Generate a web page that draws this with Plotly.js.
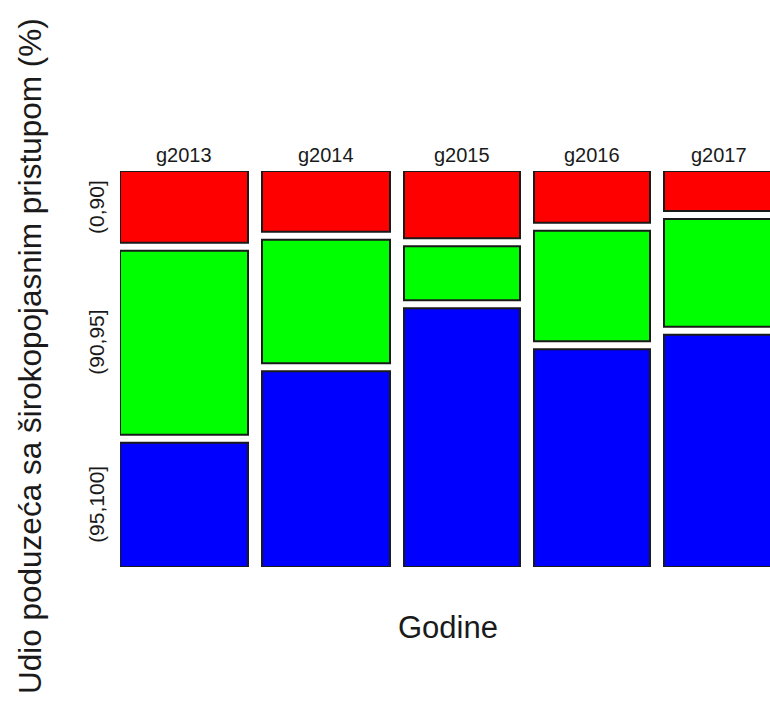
<!DOCTYPE html>
<html>
<head>
<meta charset="utf-8">
<script src="https://cdn.plot.ly/plotly-3.0.1.min.js"></script>
<style>html,body{margin:0;padding:0;background:#fff;}#chart{width:770px;height:704px;}</style>
</head>
<body>
<div id="chart"></div>
<script>
// ---- data ----
const years = ["g2013", "g2014", "g2015", "g2016", "g2017"];
const categories = ["(0,90]", "(90,95]", "(95,100]"];
// relative size of each year (column width in the mosaic)
const yearWeights = [128, 128, 116, 116, 109];
// share (%) of firms in each category, per year
const share0to90   = [18.9, 16.0, 17.7, 13.6, 10.5];
const share90to95  = [48.4, 32.5, 14.2, 29.1, 28.4];
const share95to100 = [32.7, 51.5, 68.1, 57.3, 61.1];
const catColors = ["#ff0000", "#00ff00", "#0000ff"];

// ---- layout constants ----
const gapX = 14 / 597;   // horizontal gap between columns (fraction of total width)
const gapY = 8 / 380;    // vertical gap between tiles
const font = "Liberation Sans, Arial, sans-serif";
const txtColor = "#1a1a1a";

const totalW = yearWeights.reduce((a, b) => a + b, 0);
const widths = yearWeights.map(w => w / totalW);
const centers = [];
let acc = 0;
widths.forEach((w, i) => { centers.push(acc + w / 2); acc += w + gapX; });

// stack from the bottom: (95,100] , gap, (90,95], gap, (0,90]
const seriesByCat = [share0to90, share90to95, share95to100];
const norm = years.map((_, i) => seriesByCat.reduce((s, arr) => s + arr[i], 0));
const frac = seriesByCat.map(arr => arr.map((v, i) => v / norm[i]));
const bases = [
  years.map((_, i) => frac[2][i] + frac[1][i] + 2 * gapY),
  years.map((_, i) => frac[2][i] + gapY),
  years.map(() => 0)
];

const traces = categories.map((c, k) => ({
  type: "bar",
  name: c,
  x: centers,
  y: frac[k],
  base: bases[k],
  width: widths,
  marker: { color: catColors[k], line: { color: "#1a1a1a", width: 2 } },
  hoverinfo: "skip",
  showlegend: false
}));

const annotations = [];
years.forEach((yname, i) => {
  annotations.push({
    xref: "x", yref: "paper", x: centers[i], y: 1 + (171 - 155) / 396,
    xanchor: "center", yanchor: "middle", showarrow: false,
    text: yname, font: { family: font, size: 20, color: txtColor }
  });
});
categories.forEach((c, k) => {
  annotations.push({
    xref: "paper", yref: "y", x: (97 - 120) / 650, y: bases[k][0] + frac[k][0] / 2,
    xanchor: "center", yanchor: "middle", showarrow: false, textangle: -90,
    text: c, font: { family: font, size: 21, color: txtColor }
  });
});
annotations.push({
  xref: "paper", yref: "paper", x: (448 - 120) / 650, y: -(627 - 567) / 396,
  xanchor: "center", yanchor: "middle", showarrow: false,
  text: "Godine", font: { family: font, size: 31, color: txtColor }
});
annotations.push({
  xref: "paper", yref: "paper", x: (30 - 120) / 650, y: (567 - 356) / 396,
  xanchor: "center", yanchor: "middle", showarrow: false, textangle: -90,
  text: "Udio poduzeća sa širokopojasnim pristupom (%)", font: { family: font, size: 31.5, color: txtColor }
});

const layout = {
  width: 770, height: 704,
  margin: { l: 120, r: 0, t: 171, b: 137, pad: 0 },
  paper_bgcolor: "#fff", plot_bgcolor: "#fff",
  barmode: "overlay",
  xaxis: { range: [0, 650 / 597], visible: false, fixedrange: true },
  yaxis: { range: [0, 1 + 2 * gapY], visible: false, fixedrange: true },
  annotations: annotations,
  font: { family: font }
};

Plotly.newPlot("chart", traces, layout, { displayModeBar: false, staticPlot: true });
</script>
</body>
</html>
